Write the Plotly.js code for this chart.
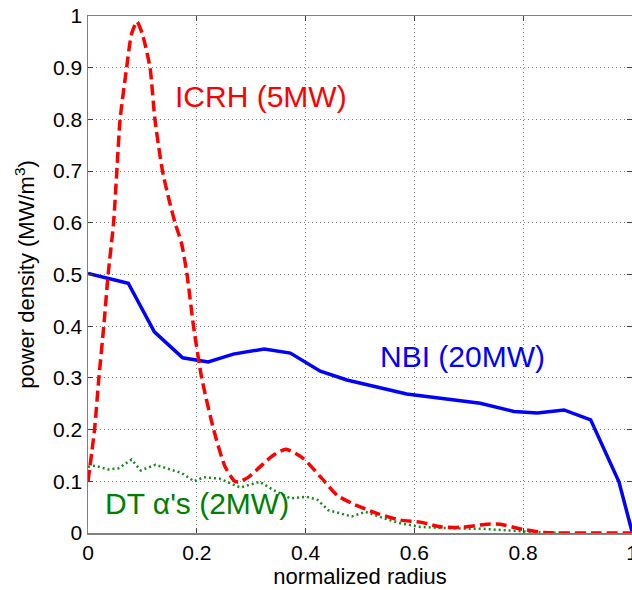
<!DOCTYPE html>
<html>
<head>
<meta charset="utf-8">
<script src="https://cdn.plot.ly/plotly-3.0.1.min.js"></script>
<style>html,body{margin:0;padding:0;background:#fff;}#chart{width:632px;height:590px;}</style>
</head>
<body>
<div id="chart"></div>
<script>
// NBI (20MW)
const nbiX = [0, 0.074, 0.122, 0.174, 0.221, 0.267, 0.324, 0.372, 0.427, 0.476, 0.586, 0.721, 0.783, 0.826, 0.875, 0.924, 0.976, 1.0];
const nbiY = [0.502, 0.483, 0.389, 0.339, 0.331, 0.346, 0.356, 0.348, 0.313, 0.296, 0.269, 0.251, 0.235, 0.232, 0.238, 0.219, 0.099, 0.003];

// ICRH (5MW)
const icrhX = [0, 0.012, 0.020, 0.029, 0.037, 0.047, 0.053, 0.059, 0.071, 0.080, 0.090, 0.100, 0.114, 0.123, 0.137, 0.150, 0.160, 0.172, 0.182, 0.194, 0.209, 0.231, 0.252, 0.270, 0.278, 0.295, 0.316, 0.340, 0.364, 0.396, 0.427, 0.458, 0.488, 0.531, 0.574, 0.611, 0.648, 0.684, 0.734, 0.758, 0.795, 0.838, 0.880, 0.94, 1.0];
const icrhY = [0.100, 0.200, 0.300, 0.400, 0.500, 0.600, 0.700, 0.800, 0.900, 0.965, 0.989, 0.965, 0.900, 0.800, 0.700, 0.640, 0.600, 0.560, 0.500, 0.400, 0.300, 0.200, 0.128, 0.100, 0.099, 0.108, 0.128, 0.150, 0.162, 0.144, 0.109, 0.073, 0.056, 0.038, 0.025, 0.021, 0.012, 0.011, 0.017, 0.017, 0.008, 0.001, 0.000, 0.000, 0.000];

// DT alpha's (2MW)
const dtX = [0, 0.013, 0.037, 0.056, 0.080, 0.097, 0.124, 0.150, 0.172, 0.195, 0.213, 0.242, 0.280, 0.316, 0.341, 0.372, 0.402, 0.422, 0.442, 0.485, 0.510, 0.545, 0.574, 0.608, 0.666, 0.727, 0.789, 0.832, 0.880];
const dtY = [0.128, 0.130, 0.123, 0.125, 0.142, 0.121, 0.132, 0.124, 0.116, 0.100, 0.108, 0.105, 0.088, 0.099, 0.083, 0.067, 0.070, 0.064, 0.044, 0.032, 0.041, 0.028, 0.019, 0.012, 0.009, 0.008, 0.004, 0.001, 0.000];

const xTicks = [0, 0.2, 0.4, 0.6, 0.8, 1];
const xTickText = ['0', '0.2', '0.4', '0.6', '0.8', '1'];
const yTicks = [0, 0.1, 0.2, 0.3, 0.4, 0.5, 0.6, 0.7, 0.8, 0.9, 1];
const yTickText = ['0', '0.1', '0.2', '0.3', '0.4', '0.5', '0.6', '0.7', '0.8', '0.9', '1'];

const labels = ['ICRH (5MW)', 'NBI (20MW)', 'DT \u03b1\'s (2MW)'];
const labelX = [0.318, 0.689, 0.20];
const labelY = [0.845, 0.342, 0.058];
const labelColor = ['#ff0000', '#0000ff', '#008000'];

const font = 'Liberation Sans, Arial, sans-serif';

const traces = [
  {x: dtX, y: dtY, type: 'scatter', mode: 'lines', line: {color: '#1a8a1a', width: 2.5, dash: '2px,3px'}, hoverinfo: 'skip'},
  {x: nbiX, y: nbiY, type: 'scatter', mode: 'lines', line: {color: '#0000ff', width: 3.5}, hoverinfo: 'skip'},
  {x: icrhX, y: icrhY, type: 'scatter', mode: 'lines', line: {color: '#ff0000', width: 3.5, dash: '11px,5px', shape: 'spline', smoothing: 0.6}, hoverinfo: 'skip'}
];

const axisCommon = {
  showline: true, linecolor: '#808080', linewidth: 1.5, mirror: 'ticks',
  ticks: 'inside', ticklen: 5, tickcolor: '#404040', tickwidth: 1,
  showgrid: true, gridcolor: '#808080', griddash: '1px,3px', gridwidth: 1,
  zeroline: false, ticklabeloverflow: 'allow',
  tickfont: {family: font, size: 21, color: '#000'}
};

const layout = {
  width: 632, height: 590,
  margin: {l: 88, r: 0, t: 16, b: 57},
  paper_bgcolor: '#fff', plot_bgcolor: '#fff',
  showlegend: false,
  xaxis: Object.assign({}, axisCommon, {
    range: [0, 1], tickvals: xTicks, ticktext: xTickText,
    title: {text: 'normalized radius', font: {family: font, size: 22, color: '#000'}, standoff: 0}
  }),
  yaxis: Object.assign({}, axisCommon, {
    range: [0, 1], tickvals: yTicks, ticktext: yTickText,
    title: {text: 'power density (MW/m<sup>3</sup>)', font: {family: font, size: 22, color: '#000'}, standoff: 12}
  }),
  annotations: labels.map((t, i) => ({
    x: labelX[i], y: labelY[i], xref: 'x', yref: 'y', text: t, showarrow: false,
    font: {family: font, size: 30, color: labelColor[i]}, xanchor: 'center', yanchor: 'middle'
  }))
};

Plotly.newPlot('chart', traces, layout, {staticPlot: true, displayModeBar: false});
</script>
</body>
</html>
